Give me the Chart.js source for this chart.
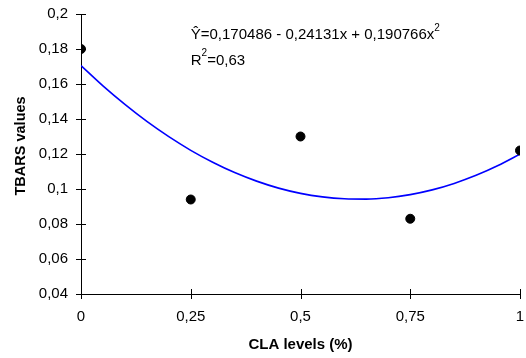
<!DOCTYPE html>
<html>
<head>
<meta charset="utf-8">
<script src="https://cdn.jsdelivr.net/npm/chart.js@4/dist/chart.umd.min.js"></script>
<style>
html,body{margin:0;padding:0;background:#fff;}
#wrap{width:526px;height:358px;}
</style>
</head>
<body>
<div id="wrap"><canvas id="c" width="526" height="358"></canvas></div>
<script>
// Observed data
const claLevels = [0, 0.25, 0.5, 0.75, 1];
const tbarsValues = [0.18, 0.094, 0.13, 0.083, 0.122];
// Fitted curve read along its course
const curveX = [0, 0.05, 0.1, 0.15, 0.2, 0.25, 0.3, 0.35, 0.4, 0.45, 0.5, 0.55, 0.6, 0.65, 0.7, 0.75, 0.8, 0.85, 0.9, 0.95, 1];
const curveY = [0.1705, 0.1589, 0.1483, 0.1386, 0.1299, 0.1221, 0.1153, 0.1094, 0.1045, 0.1005, 0.0975, 0.0955, 0.0944, 0.0942, 0.0950, 0.0968, 0.0995, 0.1032, 0.1078, 0.1134, 0.1199];
const xTicks = [0, 0.25, 0.5, 0.75, 1];
const yTicks = [0.04, 0.06, 0.08, 0.1, 0.12, 0.14, 0.16, 0.18, 0.2];
const equationText = ['Ŷ=0,170486 - 0,24131x + 0,190766x', '2'];
const r2Text = ['R', '2', '=0,63'];

const FONT = '"Liberation Sans", Arial, sans-serif';
const fmt = v => String(Number(v.toFixed(2))).replace('.', ',');

const crossTicks = {
  id: 'crossTicks',
  afterDraw(chart) {
    const ctx = chart.ctx;
    const xs = chart.scales.x, ys = chart.scales.y;
    const a = chart.chartArea;
    ctx.save();
    ctx.strokeStyle = '#000';
    ctx.lineWidth = 1;
    ctx.beginPath();
    yTicks.forEach(v => {
      const y = Math.round(ys.getPixelForValue(v)) + 0.5;
      ctx.moveTo(a.left - 5, y); ctx.lineTo(a.left + 5, y);
    });
    xTicks.forEach(v => {
      const x = Math.round(xs.getPixelForValue(v)) + 0.5;
      ctx.moveTo(x, a.bottom - 5); ctx.lineTo(x, a.bottom + 5);
    });
    ctx.stroke();
    // equation annotation
    ctx.fillStyle = '#000';
    ctx.textBaseline = 'middle';
    ctx.font = '15px ' + FONT;
    const ex = xs.getPixelForValue(0.25);
    let y1 = ys.getPixelForValue(0.188);
    ctx.fillText(equationText[0], ex, y1);
    let w = ctx.measureText(equationText[0]).width;
    ctx.font = '10px ' + FONT;
    ctx.fillText(equationText[1], ex + w, y1 - 7);
    let y2 = ys.getPixelForValue(0.1733);
    ctx.font = '15px ' + FONT;
    ctx.fillText(r2Text[0], ex, y2);
    w = ctx.measureText(r2Text[0]).width;
    ctx.font = '10px ' + FONT;
    ctx.fillText(r2Text[1], ex + w, y2 - 7);
    const w2 = ctx.measureText(r2Text[1]).width;
    ctx.font = '15px ' + FONT;
    ctx.fillText(r2Text[2], ex + w + w2, y2);
    ctx.restore();
  }
};

new Chart(document.getElementById('c'), {
  type: 'scatter',
  data: {
    datasets: [
      {
        type: 'line',
        data: curveX.map((x, i) => ({x: x, y: curveY[i]})),
        borderColor: '#0000ff',
        borderWidth: 1.6,
        pointRadius: 0,
        fill: false,
        tension: 0.4,
        cubicInterpolationMode: 'monotone',
        order: 2
      },
      {
        data: claLevels.map((x, i) => ({x: x, y: tbarsValues[i]})),
        backgroundColor: '#000',
        borderColor: '#000',
        pointRadius: 4.5,
        pointHoverRadius: 4.5,
        order: 1
      }
    ]
  },
  options: {
    responsive: false,
    animation: false,
    devicePixelRatio: 1,
    layout: {padding: {left: 0, right: 6, top: 14, bottom: 0}},
    plugins: {legend: {display: false}, tooltip: {enabled: false}},
    scales: {
      x: {
        type: 'linear',
        min: 0, max: 1,
        afterBuildTicks: s => { s.ticks = xTicks.map(v => ({value: v})); },
        afterFit: s => { s.height = 64; s.paddingLeft = 0; s.paddingRight = 0; },
        grid: {display: false, drawTicks: false},
        border: {display: true, color: '#000', width: 1},
        ticks: {
          color: '#000', font: {family: FONT, size: 15}, padding: 14,
          maxRotation: 0, autoSkip: false,
          callback: v => fmt(v)
        },
        title: {display: true, text: 'CLA levels (%)', color: '#000',
          font: {family: FONT, size: 15, weight: 'bold'}, padding: {top: 5}}
      },
      y: {
        type: 'linear',
        min: 0.04, max: 0.2,
        afterBuildTicks: s => { s.ticks = yTicks.map(v => ({value: v})); },
        afterFit: s => { s.width = 81; s.paddingTop = 0; s.paddingBottom = 0; },
        grid: {display: false, drawTicks: false},
        border: {display: true, color: '#000', width: 1},
        ticks: {
          color: '#000', font: {family: FONT, size: 15}, padding: 13,
          autoSkip: false,
          callback: v => fmt(v)
        },
        title: {display: true, text: '    TBARS values', color: '#000',
          font: {family: FONT, size: 14.5, weight: 'bold'}, padding: {top: 12, bottom: 0}}
      }
    }
  },
  plugins: [crossTicks]
});
</script>
</body>
</html>
